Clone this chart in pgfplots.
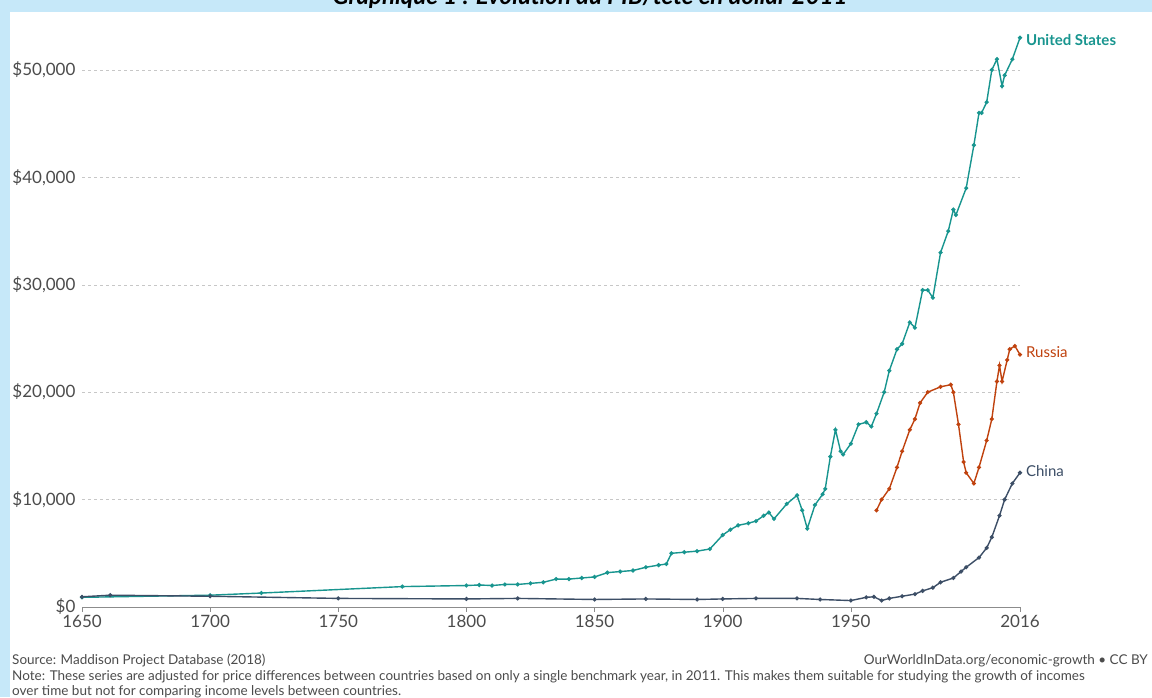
\documentclass[border=0pt]{standalone}
\usepackage{pgfplots}
\pgfplotsset{compat=1.18}
\usepackage{fontspec}
\setmainfont{Lato}
\definecolor{bgblue}{HTML}{C6E8F9}
\definecolor{us}{HTML}{18958F}
\definecolor{ru}{HTML}{C0420E}
\definecolor{cn}{HTML}{3C4E66}
\begin{document}
\begin{tikzpicture}
\useasboundingbox (0pt,0pt) rectangle (1152pt,697pt);
\clip (0pt,0pt) rectangle (1152pt,697pt);
\fill[bgblue] (0pt,0pt) rectangle (1152pt,697pt);
\fill[white] (10pt,0pt) rectangle (1152pt,685pt);
\node[font=\fontsize{24}{24}\selectfont\bfseries\itshape,anchor=center] at (590pt,699pt) {Graphique 1 : Evolution du PIB/tête en dollar 2011};
\begin{axis}[at={(82pt,90pt)},anchor=south west,scale only axis,width=938pt,height=580pt,
 xmin=1650,xmax=2016,ymin=0,ymax=54000,xtick=\empty,ytick=\empty,
 axis lines=none,clip=false,
 ]
\foreach \v/\l in {0/\$0,10000/\$10{,}000,20000/\$20{,}000,30000/\$30{,}000,40000/\$40{,}000,50000/\$50{,}000}{
 \edef\tmp{\noexpand\node[overlay,anchor=east,font=\noexpand\fontsize{17}{17}\noexpand\selectfont,text=black!70] at ([xshift=-3pt]axis cs:1650,\v) {\l};}\tmp
}
\foreach \v in {10000,20000,30000,40000,50000}{
 \edef\tmp{\noexpand\draw[overlay,black!22,dashed] (axis cs:1650,\v) -- (axis cs:2016,\v);}\tmp
}
\draw[overlay,black!45] (axis cs:1650,0) -- (axis cs:2016,0);
\foreach \x in {1650,1700,1750,1800,1850,1900,1950,2016}{
 \edef\tmp{\noexpand\draw[overlay,black!45] (axis cs:\x,0) -- ([yshift=-5pt]axis cs:\x,0); \noexpand\node[overlay,anchor=north,font=\noexpand\fontsize{17}{17}\noexpand\selectfont,text=black!70] at ([yshift=-5pt]axis cs:\x,0) {\x};}\tmp
}
\addplot[us,line width=1.4pt,mark=*,mark size=1.3pt] coordinates {
(1650,900)(1700,1100)(1720,1300)(1775,1900)(1800,2000)(1805,2050)(1810,2000)(1815,2100)(1820,2100)(1825,2200)(1830,2300)(1835,2600)(1840,2600)(1845,2700)(1850,2800)(1855,3200)(1860,3300)(1865,3400)(1870,3700)(1875,3900)(1878,4000)(1880,5000)(1885,5100)(1890,5200)(1895,5400)(1900,6700)(1903,7200)(1906,7600)(1910,7800)(1913,8000)(1916,8500)(1918,8800)(1920,8200)(1925,9600)(1929,10400)(1931,9000)(1933,7300)(1936,9500)(1939,10500)(1940,11000)(1942,14000)(1944,16500)(1946,14500)(1947,14200)(1950,15200)(1953,17000)(1956,17200)(1958,16800)(1960,18000)(1963,20000)(1965,22000)(1968,24000)(1970,24500)(1973,26500)(1975,26000)(1978,29500)(1980,29500)(1982,28800)(1985,33000)(1988,35000)(1990,37000)(1991,36500)(1995,39000)(1998,43000)(2000,46000)(2001,46000)(2003,47000)(2005,50000)(2007,51000)(2009,48500)(2010,49500)(2013,51000)(2016,53000)};
\addplot[ru,line width=1.4pt,mark=*,mark size=1.3pt] coordinates {
(1960,9000)(1962,10000)(1965,11000)(1968,13000)(1970,14500)(1973,16500)(1975,17500)(1977,19000)(1980,20000)(1985,20500)(1989,20700)(1990,20000)(1992,17000)(1994,13500)(1995,12500)(1998,11500)(2000,13000)(2003,15500)(2005,17500)(2007,21000)(2008,22500)(2009,21000)(2011,23000)(2012,24000)(2014,24300)(2016,23500)};
\addplot[cn,line width=1.4pt,mark=*,mark size=1.3pt] coordinates {
(1650,950)(1661,1100)(1700,1000)(1750,800)(1800,750)(1820,800)(1850,700)(1870,750)(1890,700)(1900,750)(1913,800)(1929,800)(1938,700)(1950,600)(1956,900)(1959,950)(1962,600)(1965,800)(1970,1000)(1975,1200)(1978,1500)(1982,1800)(1985,2300)(1990,2700)(1993,3300)(1995,3700)(2000,4600)(2003,5500)(2005,6500)(2008,8500)(2010,10000)(2013,11500)(2016,12500)};
\node[overlay,anchor=west,text=us,font=\fontsize{15}{15}\selectfont\bfseries] at (axis cs:2017,52800) {United States};
\node[overlay,anchor=west,text=ru,font=\fontsize{15}{15}\selectfont] at (axis cs:2017,23700) {Russia};
\node[overlay,anchor=west,text=cn,font=\fontsize{15}{15}\selectfont] at (axis cs:2017,12700) {China};
\end{axis}
\begin{scope}[font=\fontsize{13.5}{13.5}\selectfont,text=black!70]
\node[anchor=base west,inner sep=0pt] at (12pt,33pt) {Source: Maddison Project Database (2018)};
\node[anchor=base east,inner sep=0pt] at (1148pt,33pt) {OurWorldInData.org/economic-growth • CC BY};
\node[anchor=base west,inner sep=0pt] at (12pt,17pt) {Note: These series are adjusted for price differences between countries based on only a single benchmark year, in 2011. This makes them suitable for studying the growth of incomes};
\node[anchor=base west,inner sep=0pt] at (12pt,2pt) {over time but not for comparing income levels between countries.};
\end{scope}
\end{tikzpicture}
\end{document}
